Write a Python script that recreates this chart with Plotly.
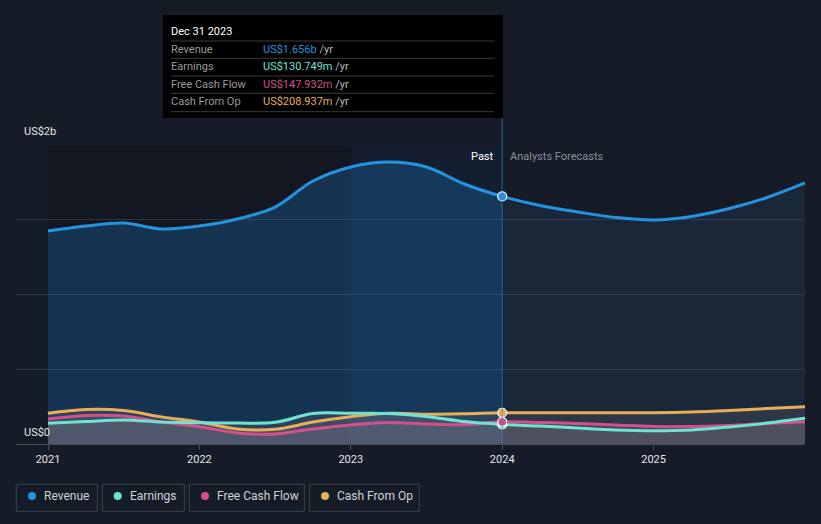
import plotly.graph_objects as go

# ---- data ----
years = [2021.0, 2021.25, 2021.5, 2021.75, 2022.0, 2022.25, 2022.5, 2022.75,
         2023.0, 2023.25, 2023.5, 2023.75, 2024.0, 2024.25, 2024.5, 2024.75,
         2025.0, 2025.25, 2025.5, 2025.75, 2026.0]
revenue_b = [1.425, 1.458, 1.478, 1.438, 1.458, 1.505, 1.585, 1.759,
             1.853, 1.886, 1.853, 1.739, 1.656, 1.595, 1.552, 1.515,
             1.498, 1.522, 1.575, 1.649, 1.746]
earnings_m = [138, 150, 161, 147, 142, 140, 145, 204,
              205, 204, 184, 150, 131, 120, 107, 94,
              89, 94, 114, 140, 172]
fcf_m = [167, 191, 187, 147, 116, 74, 67, 100,
         127, 144, 134, 130, 148, 144, 137, 127,
         117, 117, 124, 137, 149]
cfo_m = [205, 231, 224, 181, 147, 100, 98, 147,
         183, 205, 199, 202, 209, 209, 209, 209,
         209, 214, 224, 237, 250]
tick_years = [2021, 2022, 2023, 2024, 2025]
tick_labels = ["2021", "2022", "2023", "2024", "2025"]
series_names = ["Revenue", "Earnings", "Free Cash Flow", "Cash From Op"]
tooltip_date = "Dec 31 2023"
tooltip_values = ["US$1.656b", "US$130.749m", "US$147.932m", "US$208.937m"]
split_year = 2024.0

colors = {"Revenue": "#2394df", "Earnings": "#6ee3d2",
          "Free Cash Flow": "#d4508c", "Cash From Op": "#e8ad58"}

BG = "#151b27"
W, H = 821, 524
L, R, T, B = 16, 16, 145, 80
PW, PH = W - L - R, H - T - B
X0 = 2021 - 32 / (757 / 5)
X1 = 2026.0


def px(xp):
    return (xp - L) / PW


def py(yp):
    return (H - B - yp) / PH


fig = go.Figure()

si = years.index(split_year)
past_x, fut_x = years[:si + 1], years[si:]

# revenue fills
fig.add_trace(go.Scatter(x=past_x, y=revenue_b[:si + 1], mode="lines",
                         line=dict(width=0, shape="spline"), fill="tozeroy",
                         fillcolor="rgba(30,110,180,0.33)", hoverinfo="skip",
                         showlegend=False))
fig.add_trace(go.Scatter(x=fut_x, y=revenue_b[si:], mode="lines",
                         line=dict(width=0, shape="spline"), fill="tozeroy",
                         fillcolor="rgba(40,80,120,0.22)", hoverinfo="skip",
                         showlegend=False))

small = [("Cash From Op", cfo_m), ("Free Cash Flow", fcf_m), ("Earnings", earnings_m)]
for name, vals in small:
    yb = [v / 1000 for v in vals]
    fig.add_trace(go.Scatter(x=years, y=yb, mode="lines",
                             line=dict(width=0, shape="spline"), fill="tozeroy",
                             fillcolor="rgba(160,145,150,0.16)", hoverinfo="skip",
                             showlegend=False))

# lines
fig.add_trace(go.Scatter(x=years, y=revenue_b, mode="lines",
                         line=dict(color=colors["Revenue"], width=3, shape="spline"),
                         showlegend=False, hoverinfo="skip"))
for name, vals in [("Cash From Op", cfo_m), ("Free Cash Flow", fcf_m), ("Earnings", earnings_m)]:
    fig.add_trace(go.Scatter(x=years, y=[v / 1000 for v in vals], mode="lines",
                             line=dict(color=colors[name], width=3, shape="spline"),
                             showlegend=False, hoverinfo="skip"))

# markers at split
for name, val in [("Earnings", earnings_m[si] / 1000), ("Free Cash Flow", fcf_m[si] / 1000),
                  ("Cash From Op", cfo_m[si] / 1000), ("Revenue", revenue_b[si])]:
    fig.add_trace(go.Scatter(x=[split_year], y=[val], mode="markers",
                             marker=dict(color=colors[name], size=9,
                                         line=dict(color="white", width=1.2)),
                             showlegend=False, hoverinfo="skip"))

shapes = []
# darker past region, highlight band
shapes.append(dict(type="rect", xref="x", yref="paper", x0=2021, x1=split_year, y0=0, y1=1,
                   fillcolor="rgba(0,0,0,0.12)", line=dict(width=0), layer="below"))
shapes.append(dict(type="rect", xref="x", yref="paper", x0=2023, x1=split_year, y0=0, y1=1,
                   fillcolor="rgba(30,110,180,0.10)", line=dict(width=0), layer="below"))
# vertical line
shapes.append(dict(type="line", xref="x", yref="paper", x0=split_year, x1=split_year,
                   y0=0, y1=py(118), line=dict(color="rgba(60,130,190,0.7)", width=1)))

# tooltip
shapes.append(dict(type="rect", xref="paper", yref="paper", x0=px(163), x1=px(503),
                   y0=py(118), y1=py(15), fillcolor="#000000", line=dict(width=0)))
for yl in [41, 58.3, 76, 93.3, 111.7]:
    shapes.append(dict(type="line", xref="paper", yref="paper", x0=px(171), x1=px(494),
                       y0=py(yl), y1=py(yl), line=dict(color="#3a3a3a", width=1)))

annotations = []
annotations.append(dict(xref="paper", yref="paper", x=px(169), y=py(31), text=tooltip_date,
                        showarrow=False, xanchor="left", yanchor="middle",
                        font=dict(color="#ffffff", size=11)))
row_y = [49, 66.7, 84.3, 101.7]
for i, name in enumerate(series_names):
    annotations.append(dict(xref="paper", yref="paper", x=px(169), y=py(row_y[i]), text=name,
                            showarrow=False, xanchor="left", yanchor="middle",
                            font=dict(color="#9a9a9a", size=11)))
    annotations.append(dict(xref="paper", yref="paper", x=px(261), y=py(row_y[i]),
                            text=f'<span style="color:{colors[name]}">{tooltip_values[i]}</span> /yr',
                            showarrow=False, xanchor="left", yanchor="middle",
                            font=dict(color="#bbbbbb", size=11)))

# axis value labels
annotations.append(dict(xref="paper", yref="paper", x=px(22), y=py(131), text="US$2b",
                        showarrow=False, xanchor="left", yanchor="middle",
                        font=dict(color="#e6e6e6", size=11)))
annotations.append(dict(xref="paper", yref="paper", x=px(22), y=py(432), text="US$0",
                        showarrow=False, xanchor="left", yanchor="middle",
                        font=dict(color="#e6e6e6", size=11)))
annotations.append(dict(xref="paper", yref="paper", x=px(496), y=py(156), text="Past",
                        showarrow=False, xanchor="right", yanchor="middle",
                        font=dict(color="#ffffff", size=11)))
annotations.append(dict(xref="paper", yref="paper", x=px(508), y=py(156), text="Analysts Forecasts",
                        showarrow=False, xanchor="left", yanchor="middle",
                        font=dict(color="#8a8f98", size=11)))

# legend boxes
boxes = [(16.3, 97.3, 32, 44.3), (102.3, 184.3, 117.7, 130), (189.3, 304.3, 205, 217),
         (309.7, 419.3, 325, 337)]
for (bx0, bx1, dotx, tx), name in zip(boxes, series_names):
    shapes.append(dict(type="rect", xref="paper", yref="paper", x0=px(bx0), x1=px(bx1),
                       y0=py(511.3), y1=py(484.3), line=dict(color="#3d434d", width=1),
                       fillcolor="rgba(0,0,0,0)"))
    shapes.append(dict(type="circle", xref="paper", yref="paper",
                       xsizemode="pixel", ysizemode="pixel",
                       xanchor=px(dotx), yanchor=py(496),
                       x0=-4, x1=4, y0=-4, y1=4,
                       fillcolor=colors[name], line=dict(width=0)))
    annotations.append(dict(xref="paper", yref="paper", x=px(tx - 2), y=py(496), text=name,
                            showarrow=False, xanchor="left", yanchor="middle",
                            font=dict(color="#d0d3d8", size=12)))

fig.update_layout(
    width=W, height=H, margin=dict(l=L, r=R, t=T, b=B),
    paper_bgcolor=BG, plot_bgcolor=BG,
    font=dict(family="Roboto, sans-serif", color="#e0e0e0"),
    shapes=shapes, annotations=annotations, showlegend=False,
    xaxis=dict(range=[X0, X1], tickvals=tick_years, ticktext=tick_labels,
               showgrid=False, zeroline=False, showline=True, linecolor="#4a4f58",
               ticks="outside", ticklen=5, tickcolor="#4a4f58",
               tickfont=dict(color="#e6e6e6", size=11), fixedrange=True),
    yaxis=dict(range=[0, 2], tickvals=[0, 0.5, 1, 1.5, 2], showticklabels=False,
               showgrid=True, gridcolor="rgba(255,255,255,0.13)", gridwidth=1,
               zeroline=False, fixedrange=True),
)

fig.write_html("out.html", config={"displayModeBar": False},
               post_script="document.body.style.margin='0';document.body.style.background='#151b27';")
